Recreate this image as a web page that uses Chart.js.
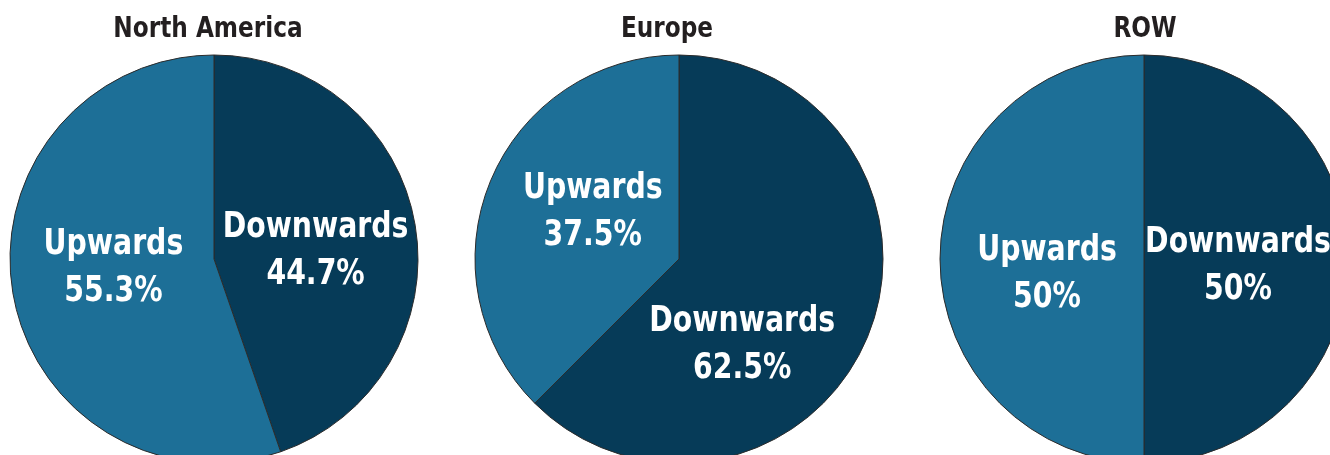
<!DOCTYPE html>
<html>
<head>
<meta charset="utf-8">
<script src="https://cdn.jsdelivr.net/npm/chart.js@4.4.1/dist/chart.umd.min.js"></script>
<style>
  html, body { margin: 0; padding: 0; background: #fff; overflow: hidden; width: 1330px; height: 455px; }
  .pie { position: absolute; top: 0; width: 428px; height: 463px; }
</style>
</head>
<body>
<div class="pie" style="left:0px"><canvas id="chart0"></canvas></div>
<div class="pie" style="left:465px"><canvas id="chart1"></canvas></div>
<div class="pie" style="left:930px"><canvas id="chart2"></canvas></div>
<script>
var regions = ['North America', 'Europe', 'ROW'];
var categories = ['Downwards', 'Upwards'];
var downwards = [44.7, 62.5, 50];
var upwards = [55.3, 37.5, 50];

var colors = ['#063b58', '#1d6f97'];
var FONT = '"Liberation Sans Narrow", "DejaVu Sans Condensed", "Arial Narrow", sans-serif';

// small shifts from the default slice-centre label spot
var labelNudge = [
  [[1, 8], [0, -9]],
  [[-31, 46], [8, -9]],
  [[-8, 6], [5, 14]]
];
var titleX = [208, 202, 215];

// squeezed text, for a condensed look
function narrowText(ctx, text, x, y, sx) {
  ctx.save();
  ctx.translate(x, y);
  ctx.scale(sx, 1);
  ctx.fillText(text, 0, 0);
  ctx.restore();
}

// writes region title and the two-line slice labels
var pieText = {
  id: 'pieText',
  afterDatasetsDraw: function(chart, args, opts) {
    var ctx = chart.ctx;
    var meta = chart.getDatasetMeta(0);
    ctx.save();
    ctx.textAlign = 'center';
    ctx.textBaseline = 'middle';
    ctx.fillStyle = '#ffffff';
    ctx.font = 'bold 36px ' + FONT;
    meta.data.forEach(function(arc, i) {
      var p = arc.tooltipPosition();
      var x = p.x + opts.nudge[i][0];
      var y = p.y + opts.nudge[i][1];
      narrowText(ctx, chart.data.labels[i], x, y - 22, 0.875);
      narrowText(ctx, chart.data.datasets[0].data[i] + '%', x, y + 25, 0.875);
    });
    ctx.fillStyle = '#231f20';
    ctx.font = 'bold 29px ' + FONT;
    narrowText(ctx, opts.title, opts.x, 29, 0.89);
    ctx.restore();
  }
};

regions.forEach(function(region, k) {
  new Chart(document.getElementById('chart' + k), {
    type: 'pie',
    data: {
      labels: categories,
      datasets: [{
        data: [downwards[k], upwards[k]],
        backgroundColor: colors,
        borderColor: '#2b2b2b',
        borderWidth: 1
      }]
    },
    options: {
      responsive: true,
      maintainAspectRatio: false,
      animation: false,
      radius: 204,
      layout: { padding: { top: 55, left: 10, right: 10, bottom: 0 } },
      plugins: {
        legend: { display: false },
        tooltip: { enabled: false },
        pieText: { title: region, x: titleX[k], nudge: labelNudge[k] }
      }
    },
    plugins: [pieText]
  });
});
</script>
</body>
</html>
